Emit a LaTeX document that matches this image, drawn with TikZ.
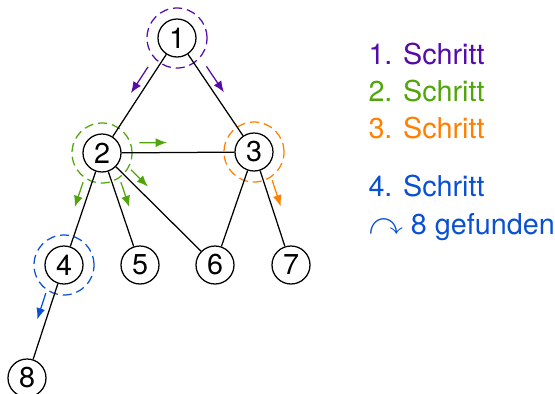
\documentclass[tikz,border=0pt]{standalone}
\usepackage{fontspec}
\setmainfont{TeX Gyre Heros}
\usepackage{amsmath, amssymb}
\usetikzlibrary{arrows.meta, calc}
\definecolor{stepone}{RGB}{85, 10, 170}
\definecolor{steptwo}{RGB}{80, 165, 10}
\definecolor{stepthree}{RGB}{255, 128, 0}
\definecolor{stepfour}{RGB}{10, 80, 210}

\begin{document}
\begin{tikzpicture}[
  x=0.4pt, y=-0.4pt,
  font=\fontsize{11.5}{14}\selectfont,
  vtx/.style={draw, circle, line width=0.5pt, minimum size=15.2pt, inner sep=0pt},
  ring/.style={draw=#1, circle, dashed, dash pattern=on 3.6pt off 2pt, line width=0.5pt, minimum size=24pt, inner sep=0pt},
  edge/.style={line width=0.5pt},
  walk/.style={draw=#1, line width=0.5pt, -{Latex[length=4.5pt, width=3.6pt]}},
  leg/.style={anchor=base west, inner sep=0pt}
]
  \useasboundingbox (0,0) rectangle (555,394);

  % tree
  \node[vtx] (n1) at (177, 38) {1};
  \node[vtx] (n2) at (102, 153) {2};
  \node[vtx] (n3) at (254, 152) {3};
  \node[vtx] (n4) at (64, 265) {4};
  \node[vtx] (n5) at (140, 265) {5};
  \node[vtx] (n6) at (215, 265) {6};
  \node[vtx] (n7) at (291, 265) {7};
  \node[vtx] (n8) at (27, 378) {8};

  \node[ring=stepone] (r1) at (n1) {};
  \node[ring=steptwo] (r2) at (n2) {};
  \node[ring=stepthree] (r3) at (n3) {};
  \node[ring=stepfour] (r4) at (n4) {};

  \draw[edge] (n1) -- (n2);
  \draw[edge] (n1) -- (n3);
  \draw[edge] (n2) -- (n3);
  \draw[edge] (n2) -- (n4);
  \draw[edge] (n2) -- (n5);
  \draw[edge] (n2) -- (n6);
  \draw[edge] (n3) -- (n6);
  \draw[edge] (n3) -- (n7);
  \draw[edge] (n4) -- (n8);

  % search steps
  \draw[walk=stepone] ($(n1)!16pt!(n2)!3.4pt!-90:(n2)$) -- ($(n1)!28.5pt!(n2)!3.4pt!-90:(n2)$);
  \draw[walk=stepone] ($(n1)!16pt!(n3)!3.4pt!90:(n3)$) -- ($(n1)!28.5pt!(n3)!3.4pt!90:(n3)$);
  \draw[walk=steptwo] ($(n2)!15pt!(n3)!4pt!90:(n3)$) -- ($(n2)!26pt!(n3)!4pt!90:(n3)$);
  \draw[walk=steptwo] ($(n2)!13.5pt!(n4)!3.4pt!-90:(n4)$) -- ($(n2)!24pt!(n4)!3.4pt!-90:(n4)$);
  \draw[walk=steptwo] ($(n2)!13.5pt!(n5)!3.4pt!90:(n5)$) -- ($(n2)!24pt!(n5)!3.4pt!90:(n5)$);
  \draw[walk=steptwo] ($(n2)!13pt!(n6)!3.4pt!90:(n6)$) -- ($(n2)!22.5pt!(n6)!3.4pt!90:(n6)$);
  \draw[walk=stepthree] ($(n3)!13pt!(n7)!3.4pt!90:(n7)$) -- ($(n3)!24pt!(n7)!3.4pt!90:(n7)$);
  \draw[walk=stepfour] ($(n4)!13pt!(n8)!3.4pt!-90:(n8)$) -- ($(n4)!24pt!(n8)!3.4pt!-90:(n8)$);

  % legend
  \node[leg, text=stepone] (l1) at (368, 64) {1. Schritt};
  \node[leg, text=steptwo] (l2) at (368, 101) {2. Schritt};
  \node[leg, text=stepthree] (l3) at (368, 138) {3. Schritt};
  \node[leg, text=stepfour] (l4) at (368, 196) {4. Schritt};
  \node[leg, text=stepfour] (l5) at (368, 234) {\scalebox{1.2}{$\curvearrowright$} 8 gefunden};
\end{tikzpicture}
\end{document}
